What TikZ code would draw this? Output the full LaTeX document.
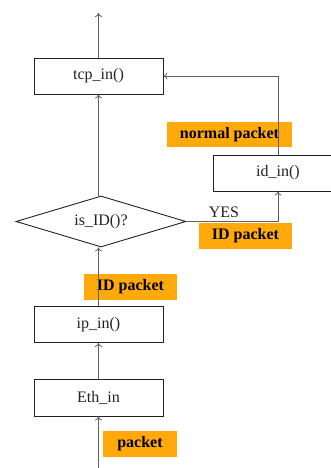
\documentclass[tikz,border=0pt]{standalone}
\usepackage{fontspec}
\setmainfont{Liberation Serif}
\usetikzlibrary{shapes.geometric,arrows.meta}
\definecolor{lbl}{HTML}{FFAA0A}
\definecolor{ln}{HTML}{606060}
\definecolor{bd}{HTML}{222222}
\tikzset{
  fnbox/.style={draw=bd, line width=0.9pt, minimum width=129pt, minimum height=36pt, inner sep=0pt, font=\fontsize{16}{18}\selectfont, text=bd},
  tag/.style={fill=lbl, inner sep=0pt, font=\bfseries\fontsize{16}{18}\selectfont, text=black},
  conn/.style={draw=ln, line width=0.8pt, -{To[length=4pt,width=7pt]}},
  plain/.style={draw=ln, line width=0.8pt},
}
\begin{document}
\begin{tikzpicture}[x=1pt,y=-1pt]
\useasboundingbox (0,0) rectangle (331,468);
\clip (0,0) rectangle (331,468);
\node[fnbox] (tcp) at (98.5,76) {tcp\_in()};
\node[fnbox] (ip) at (98.5,324.5) {ip\_in()};
\node[fnbox, minimum height=37pt] (eth) at (98.5,397.5) {Eth\_in};
\node[fnbox] (id) at (278,173) {id\_in()};
\node[draw=bd, line width=0.9pt, diamond, aspect=3.33, minimum width=170pt, minimum height=51pt, inner sep=0pt, font=\fontsize{16}{18}\selectfont, text=bd] (isid) at (101,221.5) {is\_ID()?};
\node[tag, minimum width=125pt, minimum height=25pt] (tnorm) at (229.5,134.5) {normal packet};
\node[tag, minimum width=93pt, minimum height=26pt] (tidr) at (245.5,236) {ID packet};
\node[tag, minimum width=93pt, minimum height=26pt] (tidl) at (130.5,287) {ID packet};
\node[tag, minimum width=74pt, minimum height=26pt] (tpk) at (140,444) {packet};
\node[font=\fontsize{16}{18}\selectfont, text=bd, inner sep=0pt] (yes) at (224,212) {YES};
\coordinate (topend) at (98.5,13);
\coordinate (botstart) at (98.5,470);
\coordinate (c1) at (278,76);
\coordinate (c2) at (278,221.5);
\draw[conn] (tcp.north) -- (topend);
\draw[conn] (isid.north -| tcp.south) -- (tcp.south);
\draw[conn] (ip.north) -- (isid.south -| ip.north);
\draw[conn] (eth.north) -- (ip.south);
\draw[conn] (botstart) -- (eth.south);
\draw[conn] (id.north) -- (c1) -- (tcp.east);
\draw[conn] (isid.east) -- (c2) -- (id.south);
\end{tikzpicture}
\end{document}
